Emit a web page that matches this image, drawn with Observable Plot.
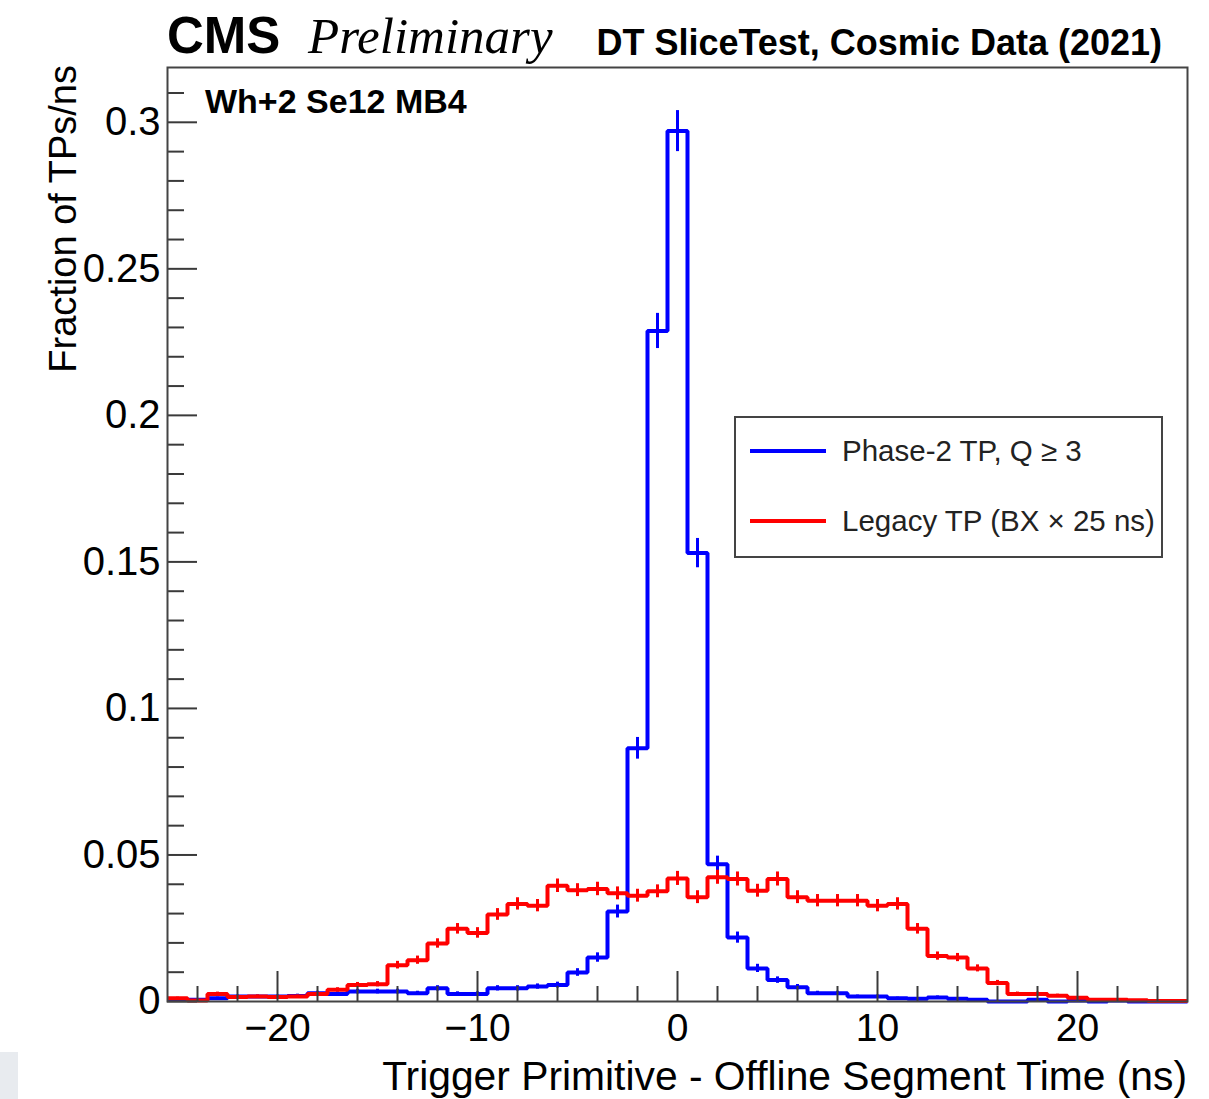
<!DOCTYPE html>
<html><head><meta charset="utf-8">
<script src="https://cdn.jsdelivr.net/npm/d3@7"></script>
<script src="https://cdn.jsdelivr.net/npm/@observablehq/plot@0.6"></script>
<style>html,body{margin:0;padding:0;background:#fff;} #chart{width:1209px;height:1099px;position:relative;}</style>
</head><body><div id="chart"></div>
<script>
// ---- data (bin centres in ns, 1 ns bins) ----
const binCenters = d3.range(-25, 26);
const phase2 = [
  0.0008, 0.0006, 0.0011, 0.0017, 0.0017, 0.0017, 0.0019,
  0.0028, 0.0026, 0.0034, 0.0034, 0.0034, 0.0028, 0.0045,
  0.0026, 0.0026, 0.0045, 0.0045, 0.0051, 0.0056, 0.0099,
  0.0150, 0.0307, 0.0864, 0.2288, 0.2970, 0.1530, 0.0468, 0.0218, 0.0113,
  0.0073, 0.0049, 0.0028, 0.0028, 0.0017, 0.0017, 0.0011,
  0.0009, 0.0014, 0.0009, 0.0006, 0.0000, 0.0000, 0.0006,
  0.0000, 0.0003, 0.0000, 0.0003, 0.0000, 0.0000, 0.0000
];
const phase2Err = [
  0.0004, 0.0003, 0.0004, 0.0005, 0.0005, 0.0005, 0.0006,
  0.0007, 0.0007, 0.0008, 0.0008, 0.0008, 0.0007, 0.0009,
  0.0007, 0.0007, 0.0009, 0.0009, 0.0009, 0.0010, 0.0013,
  0.0016, 0.0022, 0.0037, 0.0060, 0.0070, 0.0050, 0.0028, 0.0019, 0.0014,
  0.0011, 0.0009, 0.0007, 0.0007, 0.0005, 0.0005, 0.0004,
  0.0004, 0.0005, 0.0004, 0.0003, 0.0000, 0.0000, 0.0003,
  0.0000, 0.0002, 0.0000, 0.0002, 0.0000, 0.0000, 0.0000
];
const legacy = [
  0.0011, 0.0003, 0.0026, 0.0015, 0.0017, 0.0015, 0.0017,
  0.0026, 0.0040, 0.0056, 0.0059, 0.0124, 0.0141, 0.0198,
  0.0248, 0.0234, 0.0297, 0.0333, 0.0327, 0.0395, 0.0380,
  0.0384, 0.0369, 0.0361, 0.0376, 0.0420, 0.0356, 0.0424, 0.0418, 0.0378,
  0.0418, 0.0356, 0.0344, 0.0344, 0.0344, 0.0327, 0.0333,
  0.0248, 0.0155, 0.0150, 0.0113, 0.0063, 0.0026, 0.0026,
  0.0020, 0.0013, 0.0006, 0.0006, 0.0004, 0.0002, 0.0002
];
const legacyErr = [
  0.0004, 0.0002, 0.0006, 0.0004, 0.0005, 0.0004, 0.0005,
  0.0006, 0.0007, 0.0009, 0.0009, 0.0013, 0.0014, 0.0016,
  0.0018, 0.0018, 0.0020, 0.0021, 0.0021, 0.0023, 0.0022,
  0.0023, 0.0022, 0.0022, 0.0022, 0.0024, 0.0022, 0.0024, 0.0024, 0.0022,
  0.0024, 0.0022, 0.0021, 0.0021, 0.0021, 0.0021, 0.0021,
  0.0018, 0.0014, 0.0014, 0.0012, 0.0009, 0.0006, 0.0006,
  0.0005, 0.0004, 0.0003, 0.0003, 0.0002, 0.0002, 0.0002
];
const xMajorTicks = [-20, -10, 0, 10, 20];
const xMinorTicks = [-24, -22, -18, -16, -14, -12, -8, -6, -4, -2, 2, 4, 6, 8, 12, 14, 16, 18, 22, 24];
const yMajorTicks = [0, 0.05, 0.1, 0.15, 0.2, 0.25, 0.3];
const yMinorTicks = [0.01, 0.02, 0.03, 0.04, 0.06, 0.07, 0.08, 0.09, 0.11, 0.12, 0.13, 0.14,
  0.16, 0.17, 0.18, 0.19, 0.21, 0.22, 0.23, 0.24, 0.26, 0.27, 0.28, 0.29, 0.31];
const seriesNames = ["Phase-2 TP, Q \u2265 3", "Legacy TP (BX \u00d7 25 ns)"];
const seriesColors = ["#0000ff", "#ff0000"];
const xDomain = [-25.5, 25.5];
const yDomain = [0, 0.3187];

// ---- build mark tables ----
function stepTable(vals) {
  const t = binCenters.map((c, i) => ({x: c - 0.5, y: vals[i]}));
  t.push({x: binCenters[binCenters.length - 1] + 0.5, y: vals[vals.length - 1]});
  return t;
}
function errTable(vals, errs) {
  return binCenters.map((c, i) => ({x: c, lo: vals[i] - errs[i], hi: vals[i] + errs[i]}));
}
const axisColor = "#3a3a3a";
const fmtX = d => d < 0 ? "\u2212" + (-d) : String(d);
const fmtY = d => d === 0 ? "0" : String(+d.toFixed(2));

const svg = Plot.plot({
  width: 1209, height: 1099,
  marginLeft: 167, marginRight: 22, marginTop: 67, marginBottom: 98,
  style: {fontFamily: "'Liberation Sans', Arial, sans-serif", background: "#fff", color: "#000", overflow: "visible"},
  x: {domain: xDomain, label: null},
  y: {domain: yDomain, label: null},
  marks: [
    Plot.line(stepTable(phase2), {x: "x", y: "y", curve: "step-after", stroke: seriesColors[0], strokeWidth: 4, strokeLinejoin: "miter", strokeLinecap: "butt"}),
    Plot.ruleX(errTable(phase2, phase2Err), {x: "x", y1: "lo", y2: "hi", stroke: seriesColors[0], strokeWidth: 3}),
    Plot.line(stepTable(legacy), {x: "x", y: "y", curve: "step-after", stroke: seriesColors[1], strokeWidth: 4, strokeLinejoin: "miter", strokeLinecap: "butt"}),
    Plot.ruleX(errTable(legacy, legacyErr), {x: "x", y1: "lo", y2: "hi", stroke: seriesColors[1], strokeWidth: 3}),
    Plot.axisX({ticks: xMinorTicks, tickSize: -15, fill: "none", stroke: axisColor, strokeWidth: 2, label: null}),
    Plot.axisX({ticks: xMajorTicks, tickSize: -30, fill: "none", stroke: axisColor, strokeWidth: 2, label: null}),
    Plot.axisX({ticks: xMajorTicks, tickSize: 0, tickPadding: 12, fontSize: 39, tickFormat: fmtX, label: null}),
    Plot.axisY({ticks: yMinorTicks, tickSize: -17, fill: "none", stroke: axisColor, strokeWidth: 2, label: null}),
    Plot.axisY({ticks: yMajorTicks, tickSize: -30, fill: "none", stroke: axisColor, strokeWidth: 2, label: null}),
    Plot.axisY({ticks: yMajorTicks, tickSize: 0, tickPadding: 7, fontSize: 40, tickFormat: fmtY, label: null}),
    Plot.frame({stroke: "#444", strokeWidth: 2})
  ]
});
document.getElementById("chart").appendChild(svg);

// ---- texts, legend ----
const s = d3.select(svg);
const sans = "'Liberation Sans', Arial, sans-serif";
function txt(x, y, str, opts) {
  const t = s.append("text").attr("x", x).attr("y", y).attr("text-anchor", opts.anchor || "start")
    .attr("font-family", opts.family || sans).attr("font-size", opts.size).attr("fill", opts.fill || "#000").text(str);
  if (opts.weight) t.attr("font-weight", opts.weight);
  if (opts.style) t.attr("font-style", opts.style);
  if (opts.transform) t.attr("transform", opts.transform);
  return t;
}
txt(167, 53, "CMS", {size: 51, weight: "bold"});
txt(308, 53, "Preliminary", {size: 51, style: "italic", family: "'Liberation Serif', 'Times New Roman', serif"});
txt(1162, 55, "DT SliceTest, Cosmic Data (2021)", {size: 36, weight: "bold", anchor: "end"});
txt(205, 113, "Wh+2 Se12 MB4", {size: 34, weight: "bold"});
txt(0, 0, "Fraction of TPs/ns", {size: 38, anchor: "end", transform: "translate(76,65) rotate(-90)"});
txt(1187, 1090, "Trigger Primitive - Offline Segment Time (ns)", {size: 40.8, anchor: "end"});

const lg = s.append("g");
lg.append("rect").attr("x", 735).attr("y", 417).attr("width", 427).attr("height", 140).attr("fill", "#fff").attr("stroke", "#444").attr("stroke-width", 2);
seriesNames.forEach((name, i) => {
  const yy = 451 + i * 70;
  lg.append("line").attr("x1", 750).attr("x2", 826).attr("y1", yy).attr("y2", yy).attr("stroke", seriesColors[i]).attr("stroke-width", 4);
  lg.append("text").attr("x", 842).attr("y", yy + 10).attr("text-anchor", "start").attr("font-family", sans).attr("font-size", 29.5).attr("fill", "#222").text(name);
});
s.append("rect").attr("x", 0).attr("y", 1052).attr("width", 18).attr("height", 47).attr("fill", "#e8ebef");
</script>
</body></html>
